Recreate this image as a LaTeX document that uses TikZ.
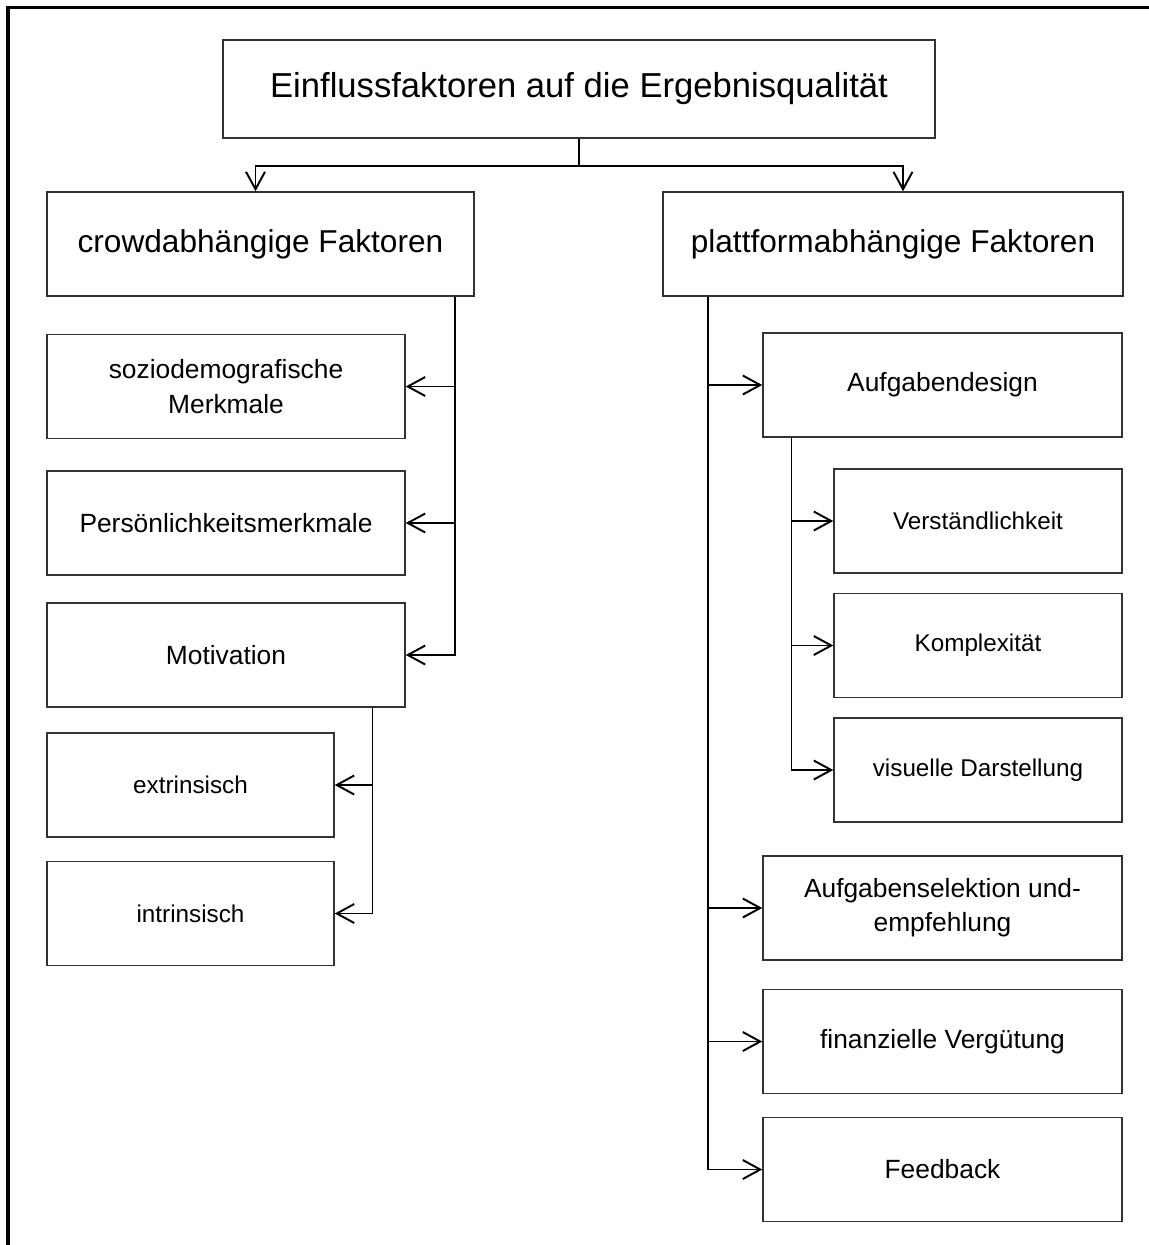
\documentclass[tikz,border=0pt]{standalone}
\usepackage{fontspec}
\setmainfont{Liberation Sans}
\usetikzlibrary{arrows.meta}
\begin{document}
\begin{tikzpicture}[
  box/.style={draw=black!80,line width=0.8pt,align=center,inner sep=0pt,
    minimum height=2.08cm,font=\fontsize{15}{19.5}\selectfont},
  small/.style={font=\fontsize{13.8}{18}\selectfont},
  conn/.style={line width=1.1pt},
  arr/.style={conn,-{Straight Barb[length=0.35cm,width=0.38cm,line width=1.1pt]}}]
\useasboundingbox (0,0) rectangle (22.98,-24.9);
% frame
\draw[line width=1.8pt] (0.16,-24.9) -- (0.16,-0.15) -- (22.98,-0.15);
% top
\node[box,minimum width=14.24cm,minimum height=1.96cm,font=\fontsize{19.7}{24}\selectfont]
  (title) at (11.58,-1.78) {Einflussfaktoren auf die Ergebnisqualität};
\node[box,minimum width=8.54cm,font=\fontsize{18}{22}\selectfont]
  (crowd) at (5.21,-4.88) {crowdabhängige Faktoren};
\node[box,minimum width=9.20cm,font=\fontsize{18}{22}\selectfont]
  (platt) at (17.86,-4.88) {plattformabhängige Faktoren};
% left side
\node[box,minimum width=7.16cm] (sozio) at (4.52,-7.73) {soziodemografische\\Merkmale};
\node[box,minimum width=7.16cm] (pers) at (4.52,-10.46) {Persönlichkeitsmerkmale};
\node[box,minimum width=7.16cm] (motiv) at (4.52,-13.10) {Motivation};
\node[box,small,minimum width=5.74cm] (extr) at (3.81,-15.70) {extrinsisch};
\node[box,small,minimum width=5.74cm] (intr) at (3.81,-18.27) {intrinsisch};
% right side
\node[box,minimum width=7.18cm] (aufg) at (18.85,-7.70) {Aufgabendesign};
\node[box,small,minimum width=5.76cm] (verst) at (19.56,-10.42) {Verständlichkeit};
\node[box,small,minimum width=5.76cm] (kompl) at (19.56,-12.91) {Komplexität};
\node[box,small,minimum width=5.76cm] (visu) at (19.56,-15.40) {visuelle Darstellung};
\node[box,minimum width=7.18cm] (selek) at (18.85,-18.16) {Aufgabenselektion und-\\empfehlung};
\node[box,minimum width=7.18cm] (finanz) at (18.85,-20.83) {finanzielle Vergütung};
\node[box,minimum width=7.18cm] (feedb) at (18.85,-23.39) {Feedback};
% connectors
\coordinate (split) at (title.south |- 0,-3.32);
\coordinate (cl) at (crowd.south -| 9.10,0);
\coordinate (cm) at (motiv.south -| 7.45,0);
\coordinate (cr) at (platt.south -| 14.16,0);
\coordinate (ca) at (aufg.south -| 15.83,0);
\draw[conn] (title.south) -- (split);
\draw[arr] (split) -| ([xshift=-1mm]crowd.north);
\draw[arr] (split) -| ([xshift=2mm]platt.north);
\draw[arr] (cl) |- (motiv.east);
\draw[arr] (cl |- sozio.east) -- (sozio.east);
\draw[arr] (cl |- pers.east) -- (pers.east);
\draw[arr] (cm) |- (intr.east);
\draw[arr] (cm |- extr.east) -- (extr.east);
\draw[arr] (cr) |- (feedb.west);
\draw[arr] (cr |- aufg.west) -- (aufg.west);
\draw[arr] (cr |- selek.west) -- (selek.west);
\draw[arr] (cr |- finanz.west) -- (finanz.west);
\draw[arr] (ca) |- (visu.west);
\draw[arr] (ca |- verst.west) -- (verst.west);
\draw[arr] (ca |- kompl.west) -- (kompl.west);
\end{tikzpicture}
\end{document}
